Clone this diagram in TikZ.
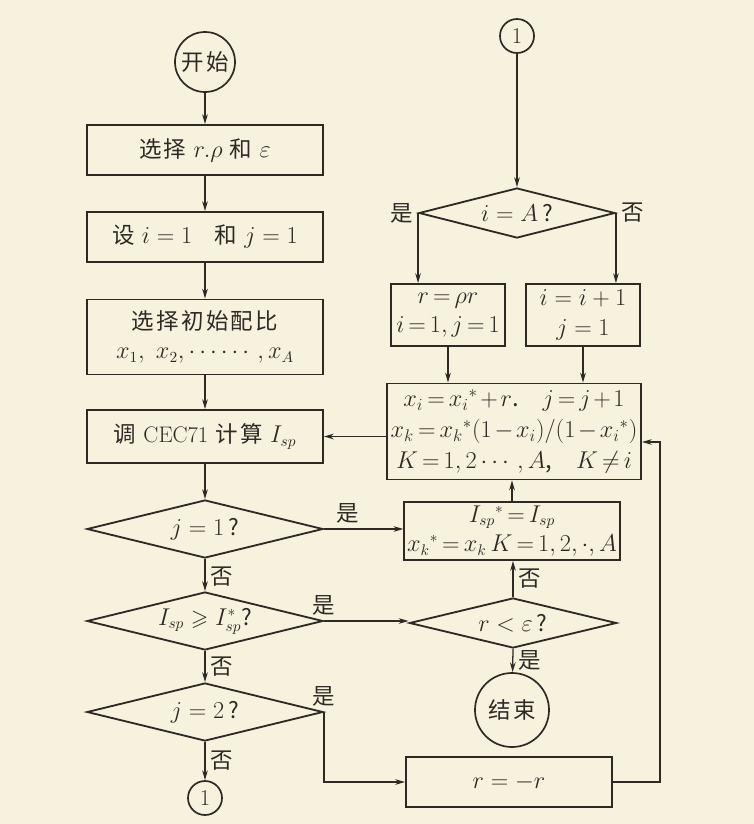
\documentclass[tikz,border=0pt]{standalone}
\usepackage{amsmath,amssymb}
\usepackage{fontspec}
\newfontfamily\cjk[LetterSpace=10]{Noto Sans CJK SC}
\usepackage{xcolor}
\usetikzlibrary{arrows.meta, positioning, shapes.geometric}
\definecolor{paper}{RGB}{246,242,222}
\definecolor{ink}{RGB}{45,42,38}

\begin{document}
\begin{tikzpicture}[>={Stealth[length=7pt, width=4pt]}, x=0.025cm, y=-0.025cm,
  every node/.style={font=\cjk\fontsize{16}{21}\selectfont, text=ink},
  box/.style={draw=ink, line width=1.3pt, align=center, inner sep=2pt},
  wide/.style={minimum width=5.9cm},
  snug/.style={execute at begin node={\thickmuskip=3mu\relax\medmuskip=2mu\relax}},
  decision/.style={draw=ink, line width=1.3pt, diamond, aspect=4, inner sep=0pt},
  terminal/.style={draw=ink, line width=1.2pt, circle, inner sep=0pt},
  conn/.style={draw=ink, line width=0.9pt, ->}]
  \fill[paper] (0,0) rectangle (754,824);
  \useasboundingbox (0,0) rectangle (754,824);

  % left column
  \node[terminal, minimum size=1.5cm] (start) at (205,62) {开始};
  \node[box, wide, minimum height=1.25cm] (pick) at (205,150) {选择 $r.\rho$ 和 $\varepsilon$};
  \node[box, wide, minimum height=1.25cm] (setij) at (205,237) {设 $i=1$\quad 和 $j=1$};
  \node[box, wide, minimum height=1.875cm] (init) at (205,337) {选择初始配比\\ $x_1,\ x_2,\cdots\cdots,x_A$};
  \node[box, wide, minimum height=1.325cm] (calc) at (205,436.5) {调 {\rmfamily CEC71} 计算 $I_{sp}$};
  \node[decision, minimum width=5.9cm, minimum height=1.45cm] (jone) at (205,529) {$j=1\,$?};
  \node[decision, minimum width=5.9cm, minimum height=1.45cm] (cmp) at (205,621) {$I_{sp}\geqslant I^*_{sp}$?};
  \node[decision, minimum width=5.9cm, minimum height=1.45cm] (jtwo) at (205,712) {$j=2\,$?};
  \node[terminal, minimum size=0.85cm] (outone) at (205,798) {\rmfamily 1};

  % right column
  \node[terminal, minimum size=0.85cm] (inone) at (517,36) {\rmfamily 1};
  \node[decision, minimum width=4.9cm, minimum height=1.25cm] (iA) at (517,213) {$i=A\,$?};
  \node[box, snug, minimum width=2.85cm, minimum height=1.55cm] (rho) at (448,315) {$r=\rho r$\\ $i=1,j=1$};
  \node[box, minimum width=2.85cm, minimum height=1.55cm] (inc) at (583,315) {$i=i+1$\\ $j=1$};
  \node[box, snug, font=\cjk\fontsize{17}{22}\selectfont, minimum width=6.35cm, minimum height=2.4cm] (step) at (514,431.5)
    {$x_i=x_i{}^*+r$.\quad $j=j+1$\\ $x_k=x_k{}^*(1-x_i)/(1-x_i{}^*)$\\ $K=1,2\cdots,A$,\quad $K\neq i$};
  \node[box, snug, minimum width=5.075cm, minimum height=1.45cm] (keep) at (512,531)
    {$I_{sp}{}^*=I_{sp}$\\ $x_k{}^*=x_k\,K=1,2,\cdot,A$};
  \node[decision, minimum width=5.175cm, minimum height=1.25cm] (reps) at (513,623) {$r<\varepsilon\,$?};
  \node[terminal, minimum size=1.85cm] (stop) at (512,710) {结束};
  \node[box, minimum width=5.15cm, minimum height=1.25cm] (flip) at (509,782) {$r=-r$};
  \coordinate (back) at (660,442);

  % left column connectors
  \draw[conn] (start) -- (pick);
  \draw[conn] (pick) -- (setij);
  \draw[conn] (setij) -- (init);
  \draw[conn] (init) -- (calc);
  \draw[conn] (calc) -- (jone);
  \draw[conn] (jone) -- node[right, pos=0.55]{否} (cmp);
  \draw[conn] (cmp) -- node[right, pos=0.5]{否} (jtwo);
  \draw[conn] (jtwo) -- node[right, pos=0.5]{否} (outone);

  % branches to the right
  \draw[conn] (jone.east) -- node[above, pos=0.3]{是} (jone.east -| keep.west);
  \draw[conn] (cmp.east) node[above]{是} -- (cmp.east -| reps.west);
  \draw[conn] (jtwo.east) node[above]{是} |- (flip.west);

  % right column connectors
  \draw[conn] (inone) -- (iA);
  \draw[conn] (iA.west) node[left]{是} -- (iA.west |- rho.north);
  \draw[conn] (iA.east) node[right]{否} -- (iA.east |- inc.north);
  \draw[conn] (rho.south) -- (rho.south |- step.north);
  \draw[conn] (inc.south) -- (inc.south |- step.north);
  \draw[conn] (step.west |- calc.east) -- (calc.east);
  \draw[conn] (keep.north) -- (keep.north |- step.south);
  \draw[conn] (reps.north) -- node[right]{否} (reps.north |- keep.south);
  \draw[conn] (reps.south) -- node[right]{是} (stop);
  \draw[conn] (flip.east) -| (back) -- (back -| step.east);
\end{tikzpicture}
\end{document}
